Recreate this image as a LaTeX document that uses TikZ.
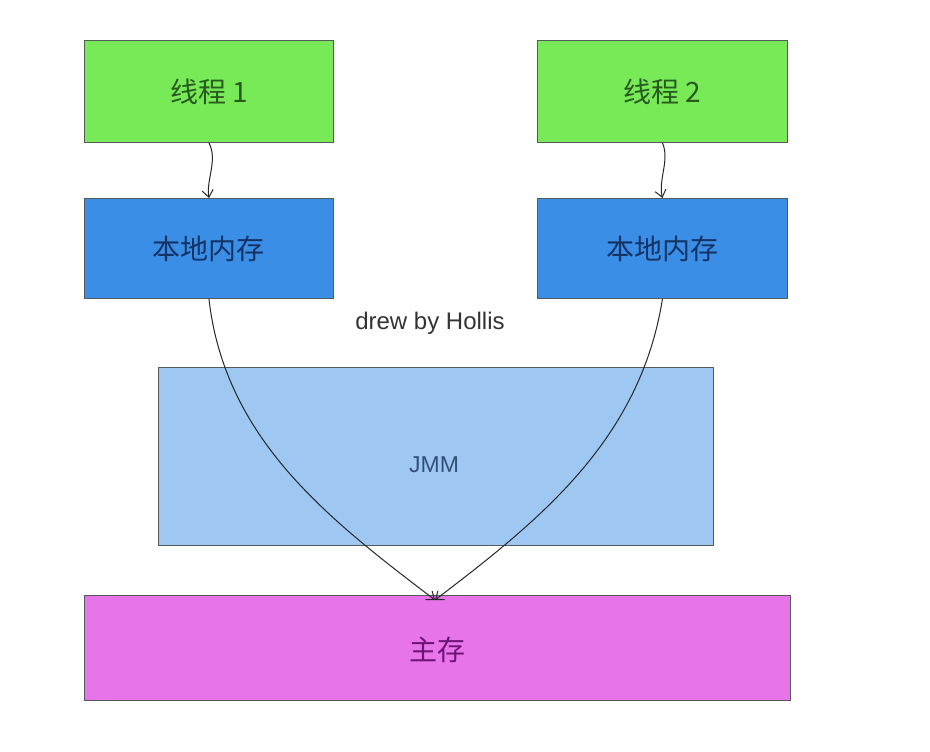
\documentclass[tikz,border=0pt]{standalone}
\usepackage{fontspec}
\newfontfamily\cjk{Noto Sans CJK SC}
\setmainfont{Liberation Sans}
\usetikzlibrary{arrows.meta,positioning}
\definecolor{thgreen}{RGB}{120,234,88}
\definecolor{locblue}{RGB}{58,142,230}
\definecolor{jmmblue}{RGB}{158,200,242}
\definecolor{mainpink}{RGB}{232,116,234}
\definecolor{txtgreen}{RGB}{40,90,30}
\definecolor{txtblue}{RGB}{20,50,100}
\definecolor{txtjmm}{RGB}{50,80,120}
\definecolor{txtpink}{RGB}{110,20,120}
\definecolor{edgegray}{RGB}{85,90,90}
\begin{document}
\begin{tikzpicture}[x=1pt,y=-1pt,
  box/.style={draw=edgegray,line width=0.9pt,inner sep=0pt,anchor=north west},
  lbl/.style={font=\cjk\fontsize{28}{32}\selectfont},
  conn/.style={draw=black!85,line width=1pt,-{Straight Barb[length=7pt,width=11pt]}}]
\useasboundingbox (0,0) rectangle (930,752);
\node[box,fill=thgreen,minimum width=249pt,minimum height=102pt] (t1) at (84,40) {};
\node[box,fill=thgreen,minimum width=250pt,minimum height=102pt] (t2) at (537,40) {};
\node[box,fill=locblue,minimum width=249pt,minimum height=100pt] (l1) at (84,198) {};
\node[box,fill=locblue,minimum width=250pt,minimum height=100pt] (l2) at (537,198) {};
\node[box,fill=jmmblue,minimum width=555pt,minimum height=178pt] (jmm) at (158,367) {};
\node[box,fill=mainpink,minimum width=706pt,minimum height=105pt] (mm) at (84,595) {};
\node[lbl,text=txtgreen] (t1l) at (t1.center) {线程 1};
\node[lbl,text=txtgreen] (t2l) at (t2.center) {线程 2};
\node[lbl,text=txtblue] (l1l) at (l1.center) {本地内存};
\node[lbl,text=txtblue] (l2l) at (l2.center) {本地内存};
\node[font=\fontsize{23}{26}\selectfont,text=txtjmm] (jmml) at (434,465) {JMM};
\node[lbl,text=txtpink] (mml) at (437,650) {主存};
\node[font=\fontsize{24}{28}\selectfont,text=black!80] (sig) at (430,323) {drew by Hollis};
\coordinate (target) at (435,600);
\draw[conn] (t1.south) .. controls (218,160) and (206,180) .. (l1.north);
\draw[conn] (t2.south) .. controls (670,160) and (658,180) .. (l2.north);
\draw[conn] (l1.south) .. controls (225,440) and (330,520) .. (target);
\draw[conn] (l2.south) .. controls (640,440) and (540,520) .. (target);
\end{tikzpicture}
\end{document}
